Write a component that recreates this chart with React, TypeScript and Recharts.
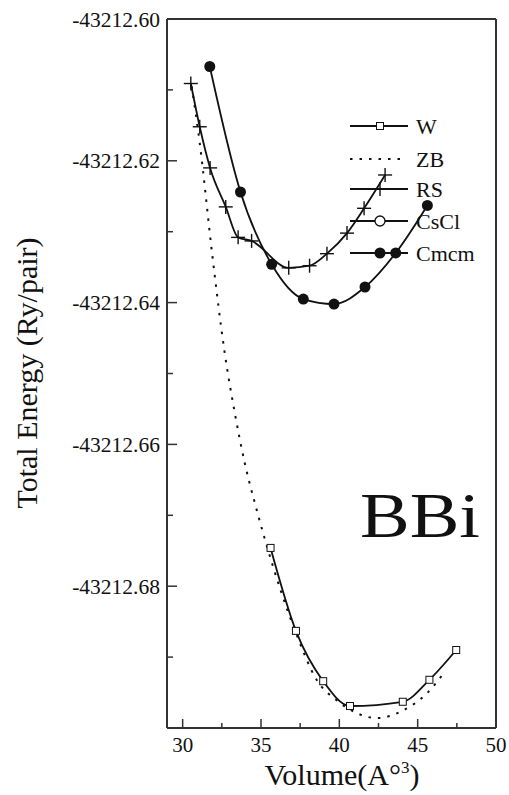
import React from 'react';
import { ComposedChart, Line, XAxis, YAxis } from 'recharts';

// volumes (A^3) and total energies (Ry/pair)
const volW = [35.61, 37.23, 38.97, 40.68, 44.05, 45.75, 47.46];
const energyW = [-43212.6746, -43212.6863, -43212.6934, -43212.6969, -43212.6963, -43212.6932, -43212.689];

const volZB = [30.58, 31.09, 31.88, 32.69, 33.33, 33.97, 34.61, 35.29, 37.23, 38.55, 39.83, 41.11, 42.39, 44.09, 45.59, 46.69];
const energyZB = [-43212.6095, -43212.6175, -43212.6331, -43212.6472, -43212.6556, -43212.6627, -43212.6683, -43212.6737, -43212.6866, -43212.6932, -43212.6961, -43212.6979, -43212.6986, -43212.6975, -43212.6951, -43212.6922];

const volRS = [30.52, 31.09, 31.75, 32.75, 33.54, 34.4, 36.77, 38.1, 39.21, 40.49, 41.58, 42.92];
const energyRS = [-43212.6091, -43212.6152, -43212.621, -43212.6265, -43212.6308, -43212.6313, -43212.6351, -43212.6348, -43212.6331, -43212.6302, -43212.6267, -43212.622];

const volCmcm = [31.73, 33.69, 35.68, 37.7, 39.66, 41.64, 43.6, 45.62];
const energyCmcm = [-43212.6067, -43212.6244, -43212.6346, -43212.6395, -43212.6402, -43212.6378, -43212.633, -43212.6263];

const xTicks = [30, 32.5, 35, 37.5, 40, 42.5, 45, 47.5, 50];
const yTicks = [-43212.7, -43212.69, -43212.68, -43212.67, -43212.66, -43212.65, -43212.64, -43212.63, -43212.62, -43212.61, -43212.6];

const legendItems = ['W', 'ZB', 'RS', 'CsCl', 'Cmcm'];

const toRows = (vs: number[], es: number[]) => vs.map((v, i) => ({ v, e: es[i] }));

const FONT = '"Liberation Serif", "Times New Roman", serif';
const INK = '#111';
const AXIS = '#333';

const isMajorY = (v: number) => Math.abs(Math.round(v * 100)) % 2 === 0;

const BottomTick = ({ x, y, payload }: any) => {
  const major = payload.value % 5 === 0;
  return (
    <g>
      <line x1={x} x2={x} y1={y} y2={y - (major ? 9 : 5)} stroke={AXIS} strokeWidth={1.5} />
      {major && (
        <text x={x} y={y + 24} textAnchor="middle" fontFamily={FONT} fontSize={21} fill={INK}>
          {payload.value}
        </text>
      )}
    </g>
  );
};

const TopTick = ({ x, y, payload }: any) => {
  const major = payload.value % 5 === 0;
  return <line x1={x} x2={x} y1={y} y2={y + (major ? 4 : 2)} stroke={AXIS} strokeWidth={1} />;
};

const LeftTick = ({ x, y, payload }: any) => {
  const major = isMajorY(payload.value);
  const labelled = major && payload.value > -43212.695;
  return (
    <g>
      <line x1={x} x2={x + (major ? 10 : 6)} y1={y} y2={y} stroke={AXIS} strokeWidth={1.5} />
      {labelled && (
        <text x={x - 7} y={y} dy="0.35em" textAnchor="end" fontFamily={FONT} fontSize={21.5} fill={INK}>
          {payload.value.toFixed(2)}
        </text>
      )}
    </g>
  );
};

const RightTick = ({ x, y, payload }: any) => {
  const major = isMajorY(payload.value);
  return <line x1={x} x2={x - (major ? 8 : 5)} y1={y} y2={y} stroke={AXIS} strokeWidth={1.5} />;
};

const SquareDot = ({ cx, cy }: any) => (
  <rect x={cx - 3.5} y={cy - 3.5} width={7} height={7} fill="#fff" stroke={INK} strokeWidth={1} />
);

const PlusDot = ({ cx, cy }: any) => (
  <g stroke={INK} strokeWidth={1.4}>
    <line x1={cx - 7} x2={cx + 7} y1={cy} y2={cy} />
    <line x1={cx} x2={cx} y1={cy - 7} y2={cy + 7} />
  </g>
);

const FilledDot = ({ cx, cy }: any) => <circle cx={cx} cy={cy} r={5.5} fill={INK} />;

function LegendMarker({ name, x, y }: { name: string; x: number; y: number }) {
  if (name === 'ZB') {
    return <line x1={x} x2={x + 56} y1={y} y2={y} stroke={INK} strokeWidth={2} strokeDasharray="2.5 7" />;
  }
  const mid = x + 30;
  return (
    <g>
      <line x1={x} x2={x + 58} y1={y} y2={y} stroke={INK} strokeWidth={1.8} />
      {name === 'W' && <rect x={mid - 3.5} y={y - 3.5} width={7} height={7} fill="#fff" stroke={INK} />}
      {name === 'RS' && (
        <g stroke={INK} strokeWidth={1.4}>
          <line x1={mid - 7} x2={mid + 7} y1={y} y2={y} />
          <line x1={mid} x2={mid} y1={y - 7} y2={y + 7} />
        </g>
      )}
      {name === 'CsCl' && <circle cx={mid} cy={y} r={5} fill="#fff" stroke={INK} strokeWidth={1.3} />}
      {name === 'Cmcm' && <circle cx={mid} cy={y} r={5.5} fill={INK} />}
    </g>
  );
}

export default function App() {
  const legendY = [126, 159, 189, 221, 253];
  return (
    <div style={{ position: 'absolute', left: 0, top: 0, width: 509, height: 795, background: '#fff' }}>
      <ComposedChart width={509} height={795} margin={{ top: 18, right: 12, bottom: 37, left: 107 }}>
        <XAxis
          xAxisId="b"
          type="number"
          dataKey="v"
          domain={[29, 50]}
          ticks={xTicks}
          interval={0}
          height={30}
          tickSize={0}
          tickMargin={0}
          tickLine={false}
          axisLine={{ stroke: AXIS, strokeWidth: 2 }}
          tick={<BottomTick />}
        />
        <XAxis
          xAxisId="t"
          orientation="top"
          type="number"
          dataKey="v"
          domain={[29, 50]}
          ticks={xTicks}
          interval={0}
          height={1}
          tickSize={0}
          tickMargin={0}
          tickLine={false}
          axisLine={{ stroke: AXIS, strokeWidth: 2 }}
          tick={<TopTick />}
        />
        <YAxis
          yAxisId="l"
          type="number"
          domain={[-43212.7, -43212.6]}
          ticks={yTicks}
          interval={0}
          width={60}
          tickSize={0}
          tickMargin={0}
          tickLine={false}
          axisLine={{ stroke: AXIS, strokeWidth: 2 }}
          tick={<LeftTick />}
        />
        <YAxis
          yAxisId="r"
          orientation="right"
          type="number"
          domain={[-43212.7, -43212.6]}
          ticks={yTicks}
          interval={0}
          width={1}
          tickSize={0}
          tickMargin={0}
          tickLine={false}
          axisLine={{ stroke: AXIS, strokeWidth: 2 }}
          tick={<RightTick />}
        />
        <Line xAxisId="b" yAxisId="l" data={toRows(volZB, energyZB)} dataKey="e" type="monotone" stroke={INK} strokeWidth={2} strokeDasharray="2.5 7" dot={false} isAnimationActive={false} />
        <Line xAxisId="b" yAxisId="l" data={toRows(volW, energyW)} dataKey="e" type="monotone" stroke={INK} strokeWidth={1.8} dot={<SquareDot />} isAnimationActive={false} />
        <Line xAxisId="b" yAxisId="l" data={toRows(volRS, energyRS)} dataKey="e" type="monotone" stroke={INK} strokeWidth={1.8} dot={<PlusDot />} isAnimationActive={false} />
        <Line xAxisId="b" yAxisId="l" data={toRows(volCmcm, energyCmcm)} dataKey="e" type="monotone" stroke={INK} strokeWidth={1.8} dot={<FilledDot />} isAnimationActive={false} />
      </ComposedChart>
      <svg width={509} height={795} style={{ position: 'absolute', left: 0, top: 0, pointerEvents: 'none' }}>
        {legendItems.map((name, i) => (
          <g key={name}>
            <LegendMarker name={name} x={350} y={legendY[i]} />
            <text x={416} y={legendY[i]} dy="0.35em" fontFamily={FONT} fontSize={22} fill={INK}>
              {name}
            </text>
          </g>
        ))}
        <text x={360} y={537} fontFamily={FONT} fontSize={64} fill={INK} textLength={120} lengthAdjust="spacingAndGlyphs">
          BBi
        </text>
        <text x={342} y={785} textAnchor="middle" fontFamily={FONT} fontSize={30} fill={INK}>
          Volume(A<tspan>°</tspan>
          <tspan dy={-12} fontSize={17}>3</tspan>
          <tspan dy={12}>)</tspan>
        </text>
        <text
          transform="translate(37 373) rotate(-90)"
          textAnchor="middle"
          fontFamily={FONT}
          fontSize={30}
          fill={INK}
        >
          Total Energy (Ry/pair)
        </text>
      </svg>
    </div>
  );
}
